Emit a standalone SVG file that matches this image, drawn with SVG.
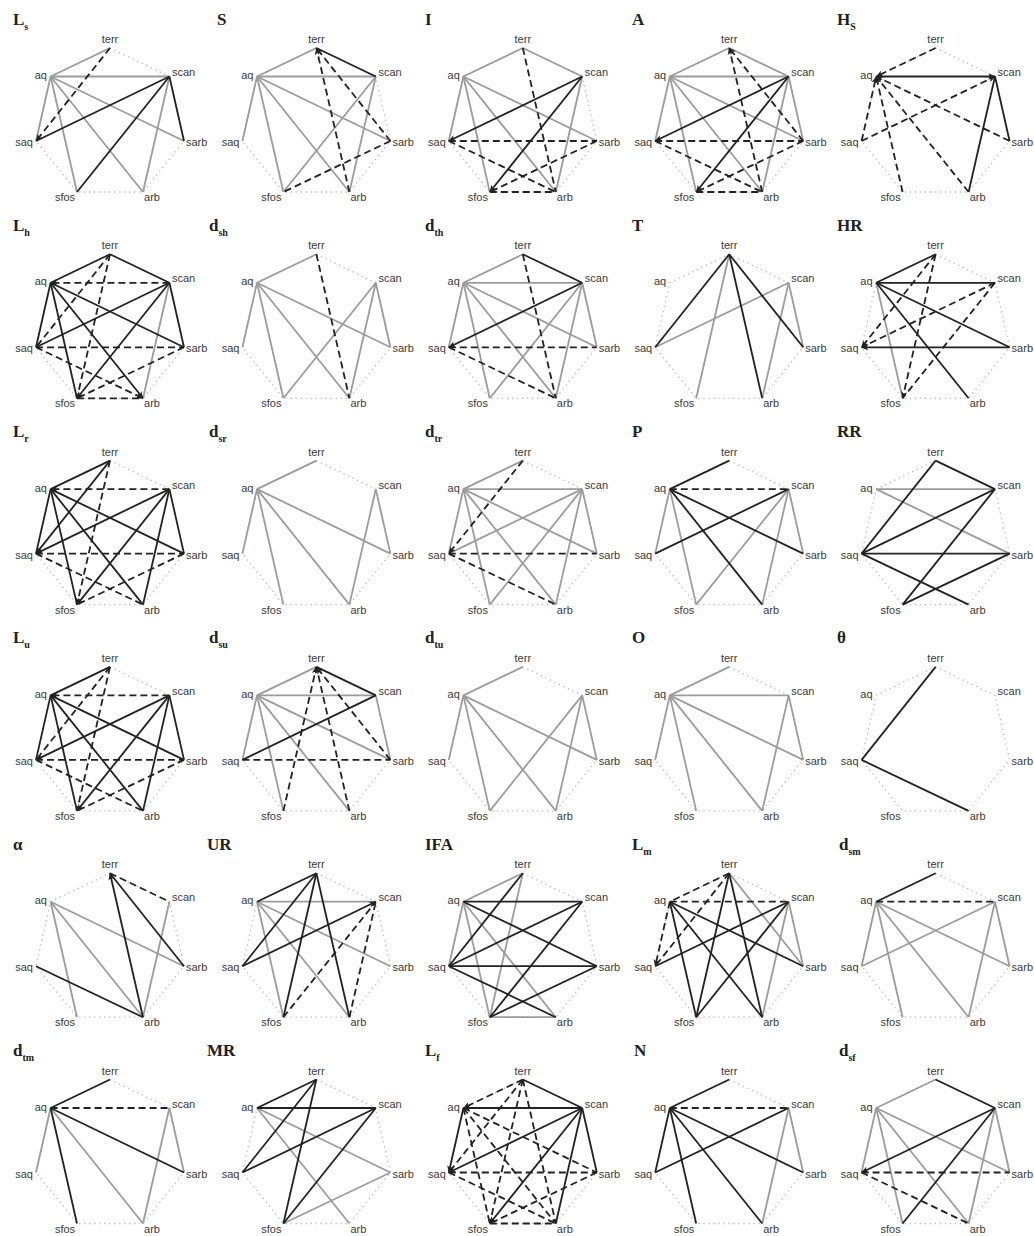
<svg xmlns="http://www.w3.org/2000/svg" width="1034" height="1236" viewBox="0 0 1034 1236">
<style>
.g{stroke:#9c9c9c;stroke-width:1.8;fill:none}
.k{stroke:#222;stroke-width:1.8;fill:none}
.d{stroke:#222;stroke-width:1.8;fill:none;stroke-dasharray:7 4}
.ae{marker-end:url(#ah)}
.hp{fill:none;stroke:#b8b8b8;stroke-width:1.3;stroke-dasharray:1.3 3.7}
.lb{font-family:"Liberation Sans",Arial,sans-serif;font-size:11px;fill:#3a3a3a}
.m{text-anchor:middle}.e{text-anchor:end}
.tt{font-family:"Liberation Serif","Times New Roman",serif;font-size:17px;font-weight:bold;fill:#222}
.sb{font-size:10px}
</style>
<defs>
<marker id="ah" viewBox="0 0 10 10" refX="9.5" refY="5" markerWidth="8" markerHeight="7" markerUnits="userSpaceOnUse" orient="auto"><path d="M0,0.5 L10,5 L0,9.5 L2.5,5 Z" fill="#222"/></marker>
</defs>
<rect width="1034" height="1236" fill="#fff"/>

<g id="p01" transform="translate(0,0)">
<text class="tt" x="13" y="24.5">L<tspan class="sb" dy="5">s</tspan></text>
<path class="hp" d="M110 48L169.4 76.5L184 141L143 192L77 192L36 141L50.6 76.5Z"/>
<g id="p01-edges">
<path class="g" d="M110 48L50.6 76.5"/><path class="g" d="M50.6 76.5L169.4 76.5"/><path class="g" d="M50.6 76.5L36 141"/><path class="g" d="M50.6 76.5L77 192"/><path class="g" d="M50.6 76.5L143 192"/><path class="g" d="M50.6 76.5L184 141"/><path class="g" d="M169.4 76.5L143 192"/>
<path class="k" d="M169.4 76.5L36 141"/><path class="k" d="M169.4 76.5L77 192"/><path class="k" d="M169.4 76.5L184 141"/>
<path class="d ae" d="M110 48L36 141"/>
</g>
<g id="p01-terr"><text class="lb m" x="110" y="43">terr</text></g>
<g id="p01-aq"><text class="lb e" x="47" y="79">aq</text></g>
<g id="p01-scan"><text class="lb" x="172" y="76">scan</text></g>
<g id="p01-saq"><text class="lb e" x="33" y="146">saq</text></g>
<g id="p01-sarb"><text class="lb" x="186" y="146">sarb</text></g>
<g id="p01-sfos"><text class="lb m" x="65" y="201">sfos</text></g>
<g id="p01-arb"><text class="lb m" x="152" y="201">arb</text></g>
</g>

<g id="p02" transform="translate(206.4,0)">
<text class="tt" x="10.6" y="24.5">S</text>
<path class="hp" d="M110 48L169.4 76.5L184 141L143 192L77 192L36 141L50.6 76.5Z"/>
<g id="p02-edges">
<path class="g" d="M110 48L50.6 76.5"/><path class="g" d="M50.6 76.5L169.4 76.5"/><path class="g" d="M50.6 76.5L36 141"/><path class="g" d="M50.6 76.5L77 192"/><path class="g" d="M50.6 76.5L143 192"/><path class="g" d="M50.6 76.5L184 141"/><path class="g" d="M169.4 76.5L77 192"/><path class="g" d="M169.4 76.5L143 192"/>
<path class="k" d="M110 48L169.4 76.5"/>
<path class="d ae" d="M143 192L110 48"/><path class="d ae" d="M184 141L110 48"/><path class="d" d="M184 141L77 192"/>
</g>
<g id="p02-terr"><text class="lb m" x="110" y="43">terr</text></g>
<g id="p02-aq"><text class="lb e" x="47" y="79">aq</text></g>
<g id="p02-scan"><text class="lb" x="172" y="76">scan</text></g>
<g id="p02-saq"><text class="lb e" x="33" y="146">saq</text></g>
<g id="p02-sarb"><text class="lb" x="186" y="146">sarb</text></g>
<g id="p02-sfos"><text class="lb m" x="65" y="201">sfos</text></g>
<g id="p02-arb"><text class="lb m" x="152" y="201">arb</text></g>
</g>

<g id="p03" transform="translate(412.8,0)">
<text class="tt" x="12.2" y="24.5">I</text>
<path class="hp" d="M110 48L169.4 76.5L184 141L143 192L77 192L36 141L50.6 76.5Z"/>
<g id="p03-edges">
<path class="g" d="M110 48L50.6 76.5"/><path class="g" d="M110 48L169.4 76.5"/><path class="g" d="M50.6 76.5L36 141"/><path class="g" d="M50.6 76.5L77 192"/><path class="g" d="M50.6 76.5L143 192"/><path class="g" d="M50.6 76.5L184 141"/><path class="g" d="M169.4 76.5L143 192"/>
<path class="k ae" d="M169.4 76.5L36 141"/><path class="k ae" d="M169.4 76.5L77 192"/>
<path class="d" d="M110 48L143 192"/><path class="d" d="M36 141L184 141"/><path class="d" d="M36 141L143 192"/><path class="d" d="M77 192L143 192"/><path class="d" d="M184 141L77 192"/>
</g>
<g id="p03-terr"><text class="lb m" x="110" y="43">terr</text></g>
<g id="p03-aq"><text class="lb e" x="47" y="79">aq</text></g>
<g id="p03-scan"><text class="lb" x="172" y="76">scan</text></g>
<g id="p03-saq"><text class="lb e" x="33" y="146">saq</text></g>
<g id="p03-sarb"><text class="lb" x="186" y="146">sarb</text></g>
<g id="p03-sfos"><text class="lb m" x="65" y="201">sfos</text></g>
<g id="p03-arb"><text class="lb m" x="152" y="201">arb</text></g>
</g>

<g id="p04" transform="translate(619.2,0)">
<text class="tt" x="12.8" y="24.5">A</text>
<path class="hp" d="M110 48L169.4 76.5L184 141L143 192L77 192L36 141L50.6 76.5Z"/>
<g id="p04-edges">
<path class="g" d="M110 48L50.6 76.5"/><path class="g" d="M110 48L169.4 76.5"/><path class="g" d="M50.6 76.5L169.4 76.5"/><path class="g" d="M50.6 76.5L36 141"/><path class="g" d="M50.6 76.5L77 192"/><path class="g" d="M50.6 76.5L143 192"/><path class="g" d="M50.6 76.5L184 141"/><path class="g" d="M169.4 76.5L184 141"/><path class="g" d="M169.4 76.5L143 192"/>
<path class="k ae" d="M169.4 76.5L36 141"/><path class="k ae" d="M169.4 76.5L77 192"/>
<path class="d ae" d="M143 192L110 48"/><path class="d ae" d="M184 141L110 48"/><path class="d" d="M36 141L184 141"/><path class="d" d="M36 141L143 192"/><path class="d" d="M77 192L143 192"/><path class="d" d="M184 141L77 192"/>
</g>
<g id="p04-terr"><text class="lb m" x="110" y="43">terr</text></g>
<g id="p04-aq"><text class="lb e" x="47" y="79">aq</text></g>
<g id="p04-scan"><text class="lb" x="172" y="76">scan</text></g>
<g id="p04-saq"><text class="lb e" x="33" y="146">saq</text></g>
<g id="p04-sarb"><text class="lb" x="186" y="146">sarb</text></g>
<g id="p04-sfos"><text class="lb m" x="65" y="201">sfos</text></g>
<g id="p04-arb"><text class="lb m" x="152" y="201">arb</text></g>
</g>

<g id="p05" transform="translate(825.6,0)">
<text class="tt" x="11.4" y="24.5">H<tspan class="sb" dy="5">S</tspan></text>
<path class="hp" d="M110 48L169.4 76.5L184 141L143 192L77 192L36 141L50.6 76.5Z"/>
<g id="p05-edges">
<path class="k ae" d="M50.6 76.5L169.4 76.5"/><path class="k" d="M169.4 76.5L184 141"/><path class="k" d="M143 192L169.4 76.5"/>
<path class="d ae" d="M110 48L50.6 76.5"/><path class="d ae" d="M36 141L50.6 76.5"/><path class="d ae" d="M77 192L50.6 76.5"/><path class="d ae" d="M143 192L50.6 76.5"/><path class="d ae" d="M184 141L50.6 76.5"/><path class="d ae" d="M36 141L169.4 76.5"/>
</g>
<g id="p05-terr"><text class="lb m" x="110" y="43">terr</text></g>
<g id="p05-aq"><text class="lb e" x="47" y="79">aq</text></g>
<g id="p05-scan"><text class="lb" x="172" y="76">scan</text></g>
<g id="p05-saq"><text class="lb e" x="33" y="146">saq</text></g>
<g id="p05-sarb"><text class="lb" x="186" y="146">sarb</text></g>
<g id="p05-sfos"><text class="lb m" x="65" y="201">sfos</text></g>
<g id="p05-arb"><text class="lb m" x="152" y="201">arb</text></g>
</g>

<g id="p06" transform="translate(0,206.3)">
<text class="tt" x="13" y="24.5">L<tspan class="sb" dy="5">h</tspan></text>
<path class="hp" d="M110 48L169.4 76.5L184 141L143 192L77 192L36 141L50.6 76.5Z"/>
<g id="p06-edges">
<path class="g" d="M169.4 76.5L143 192"/>
<path class="k" d="M110 48L50.6 76.5"/><path class="k" d="M110 48L169.4 76.5"/><path class="k" d="M50.6 76.5L36 141"/><path class="k" d="M50.6 76.5L77 192"/><path class="k ae" d="M50.6 76.5L143 192"/><path class="k" d="M50.6 76.5L184 141"/><path class="k" d="M169.4 76.5L36 141"/><path class="k ae" d="M169.4 76.5L77 192"/><path class="k" d="M169.4 76.5L184 141"/>
<path class="d ae" d="M169.4 76.5L50.6 76.5"/><path class="d" d="M110 48L36 141"/><path class="d" d="M110 48L77 192"/><path class="d" d="M36 141L184 141"/><path class="d ae" d="M36 141L143 192"/><path class="d" d="M77 192L143 192"/><path class="d" d="M184 141L77 192"/>
</g>
<g id="p06-terr"><text class="lb m" x="110" y="43">terr</text></g>
<g id="p06-aq"><text class="lb e" x="47" y="79">aq</text></g>
<g id="p06-scan"><text class="lb" x="172" y="76">scan</text></g>
<g id="p06-saq"><text class="lb e" x="33" y="146">saq</text></g>
<g id="p06-sarb"><text class="lb" x="186" y="146">sarb</text></g>
<g id="p06-sfos"><text class="lb m" x="65" y="201">sfos</text></g>
<g id="p06-arb"><text class="lb m" x="152" y="201">arb</text></g>
</g>

<g id="p07" transform="translate(206.4,206.3)">
<text class="tt" x="2.6" y="24.5">d<tspan class="sb" dy="5">sh</tspan></text>
<path class="hp" d="M110 48L169.4 76.5L184 141L143 192L77 192L36 141L50.6 76.5Z"/>
<g id="p07-edges">
<path class="g" d="M110 48L50.6 76.5"/><path class="g" d="M50.6 76.5L36 141"/><path class="g" d="M50.6 76.5L77 192"/><path class="g" d="M50.6 76.5L143 192"/><path class="g" d="M50.6 76.5L184 141"/><path class="g" d="M169.4 76.5L77 192"/><path class="g" d="M169.4 76.5L143 192"/><path class="g" d="M169.4 76.5L184 141"/>
<path class="d" d="M110 48L143 192"/>
</g>
<g id="p07-terr"><text class="lb m" x="110" y="43">terr</text></g>
<g id="p07-aq"><text class="lb e" x="47" y="79">aq</text></g>
<g id="p07-scan"><text class="lb" x="172" y="76">scan</text></g>
<g id="p07-saq"><text class="lb e" x="33" y="146">saq</text></g>
<g id="p07-sarb"><text class="lb" x="186" y="146">sarb</text></g>
<g id="p07-sfos"><text class="lb m" x="65" y="201">sfos</text></g>
<g id="p07-arb"><text class="lb m" x="152" y="201">arb</text></g>
</g>

<g id="p08" transform="translate(412.8,206.3)">
<text class="tt" x="12.2" y="24.5">d<tspan class="sb" dy="5">th</tspan></text>
<path class="hp" d="M110 48L169.4 76.5L184 141L143 192L77 192L36 141L50.6 76.5Z"/>
<g id="p08-edges">
<path class="g" d="M110 48L50.6 76.5"/><path class="g" d="M50.6 76.5L169.4 76.5"/><path class="g" d="M50.6 76.5L36 141"/><path class="g" d="M50.6 76.5L77 192"/><path class="g" d="M50.6 76.5L143 192"/><path class="g" d="M50.6 76.5L184 141"/><path class="g" d="M169.4 76.5L77 192"/><path class="g" d="M169.4 76.5L143 192"/><path class="g" d="M169.4 76.5L184 141"/>
<path class="k" d="M110 48L169.4 76.5"/><path class="k ae" d="M169.4 76.5L36 141"/>
<path class="d" d="M110 48L143 192"/><path class="d" d="M36 141L184 141"/><path class="d" d="M36 141L143 192"/>
</g>
<g id="p08-terr"><text class="lb m" x="110" y="43">terr</text></g>
<g id="p08-aq"><text class="lb e" x="47" y="79">aq</text></g>
<g id="p08-scan"><text class="lb" x="172" y="76">scan</text></g>
<g id="p08-saq"><text class="lb e" x="33" y="146">saq</text></g>
<g id="p08-sarb"><text class="lb" x="186" y="146">sarb</text></g>
<g id="p08-sfos"><text class="lb m" x="65" y="201">sfos</text></g>
<g id="p08-arb"><text class="lb m" x="152" y="201">arb</text></g>
</g>

<g id="p09" transform="translate(619.2,206.3)">
<text class="tt" x="12.8" y="24.5">T</text>
<path class="hp" d="M110 48L169.4 76.5L184 141L143 192L77 192L36 141L50.6 76.5Z"/>
<g id="p09-edges">
<path class="g" d="M110 48L77 192"/><path class="g" d="M169.4 76.5L36 141"/><path class="g" d="M169.4 76.5L143 192"/><path class="g" d="M169.4 76.5L184 141"/>
<path class="k" d="M110 48L36 141"/><path class="k" d="M110 48L143 192"/><path class="k" d="M110 48L184 141"/>
</g>
<g id="p09-terr"><text class="lb m" x="110" y="43">terr</text></g>
<g id="p09-aq"><text class="lb e" x="47" y="79">aq</text></g>
<g id="p09-scan"><text class="lb" x="172" y="76">scan</text></g>
<g id="p09-saq"><text class="lb e" x="33" y="146">saq</text></g>
<g id="p09-sarb"><text class="lb" x="186" y="146">sarb</text></g>
<g id="p09-sfos"><text class="lb m" x="65" y="201">sfos</text></g>
<g id="p09-arb"><text class="lb m" x="152" y="201">arb</text></g>
</g>

<g id="p10" transform="translate(825.6,206.3)">
<text class="tt" x="11.4" y="24.5">HR</text>
<path class="hp" d="M110 48L169.4 76.5L184 141L143 192L77 192L36 141L50.6 76.5Z"/>
<g id="p10-edges">
<path class="g" d="M50.6 76.5L77 192"/>
<path class="k" d="M110 48L50.6 76.5"/><path class="k" d="M50.6 76.5L169.4 76.5"/><path class="k" d="M50.6 76.5L184 141"/><path class="k" d="M50.6 76.5L143 192"/><path class="k ae" d="M184 141L36 141"/>
<path class="d ae" d="M110 48L36 141"/><path class="d ae" d="M110 48L77 192"/><path class="d" d="M169.4 76.5L36 141"/><path class="d" d="M169.4 76.5L77 192"/>
</g>
<g id="p10-terr"><text class="lb m" x="110" y="43">terr</text></g>
<g id="p10-aq"><text class="lb e" x="47" y="79">aq</text></g>
<g id="p10-scan"><text class="lb" x="172" y="76">scan</text></g>
<g id="p10-saq"><text class="lb e" x="33" y="146">saq</text></g>
<g id="p10-sarb"><text class="lb" x="186" y="146">sarb</text></g>
<g id="p10-sfos"><text class="lb m" x="65" y="201">sfos</text></g>
<g id="p10-arb"><text class="lb m" x="152" y="201">arb</text></g>
</g>

<g id="p11" transform="translate(0,412.6)">
<text class="tt" x="13" y="24.5">L<tspan class="sb" dy="5">r</tspan></text>
<path class="hp" d="M110 48L169.4 76.5L184 141L143 192L77 192L36 141L50.6 76.5Z"/>
<g id="p11-edges">
<path class="k" d="M110 48L50.6 76.5"/><path class="k ae" d="M110 48L36 141"/><path class="k" d="M50.6 76.5L36 141"/><path class="k" d="M50.6 76.5L77 192"/><path class="k" d="M50.6 76.5L143 192"/><path class="k" d="M50.6 76.5L184 141"/><path class="k ae" d="M169.4 76.5L36 141"/><path class="k ae" d="M169.4 76.5L77 192"/><path class="k" d="M169.4 76.5L143 192"/><path class="k" d="M169.4 76.5L184 141"/>
<path class="d ae" d="M169.4 76.5L50.6 76.5"/><path class="d ae" d="M110 48L77 192"/><path class="d" d="M36 141L184 141"/><path class="d" d="M36 141L143 192"/><path class="d" d="M184 141L77 192"/>
</g>
<g id="p11-terr"><text class="lb m" x="110" y="43">terr</text></g>
<g id="p11-aq"><text class="lb e" x="47" y="79">aq</text></g>
<g id="p11-scan"><text class="lb" x="172" y="76">scan</text></g>
<g id="p11-saq"><text class="lb e" x="33" y="146">saq</text></g>
<g id="p11-sarb"><text class="lb" x="186" y="146">sarb</text></g>
<g id="p11-sfos"><text class="lb m" x="65" y="201">sfos</text></g>
<g id="p11-arb"><text class="lb m" x="152" y="201">arb</text></g>
</g>

<g id="p12" transform="translate(206.4,412.6)">
<text class="tt" x="2.6" y="24.5">d<tspan class="sb" dy="5">sr</tspan></text>
<path class="hp" d="M110 48L169.4 76.5L184 141L143 192L77 192L36 141L50.6 76.5Z"/>
<g id="p12-edges">
<path class="g" d="M110 48L50.6 76.5"/><path class="g" d="M50.6 76.5L36 141"/><path class="g" d="M50.6 76.5L77 192"/><path class="g" d="M50.6 76.5L143 192"/><path class="g" d="M50.6 76.5L184 141"/><path class="g" d="M169.4 76.5L143 192"/><path class="g" d="M169.4 76.5L184 141"/>
</g>
<g id="p12-terr"><text class="lb m" x="110" y="43">terr</text></g>
<g id="p12-aq"><text class="lb e" x="47" y="79">aq</text></g>
<g id="p12-scan"><text class="lb" x="172" y="76">scan</text></g>
<g id="p12-saq"><text class="lb e" x="33" y="146">saq</text></g>
<g id="p12-sarb"><text class="lb" x="186" y="146">sarb</text></g>
<g id="p12-sfos"><text class="lb m" x="65" y="201">sfos</text></g>
<g id="p12-arb"><text class="lb m" x="152" y="201">arb</text></g>
</g>

<g id="p13" transform="translate(412.8,412.6)">
<text class="tt" x="12.2" y="24.5">d<tspan class="sb" dy="5">tr</tspan></text>
<path class="hp" d="M110 48L169.4 76.5L184 141L143 192L77 192L36 141L50.6 76.5Z"/>
<g id="p13-edges">
<path class="g" d="M110 48L50.6 76.5"/><path class="g" d="M50.6 76.5L169.4 76.5"/><path class="g" d="M50.6 76.5L36 141"/><path class="g" d="M50.6 76.5L77 192"/><path class="g" d="M50.6 76.5L143 192"/><path class="g" d="M50.6 76.5L184 141"/><path class="g" d="M169.4 76.5L36 141"/><path class="g" d="M169.4 76.5L77 192"/><path class="g" d="M169.4 76.5L143 192"/><path class="g" d="M169.4 76.5L184 141"/>
<path class="d ae" d="M110 48L36 141"/><path class="d" d="M36 141L184 141"/><path class="d" d="M36 141L143 192"/>
</g>
<g id="p13-terr"><text class="lb m" x="110" y="43">terr</text></g>
<g id="p13-aq"><text class="lb e" x="47" y="79">aq</text></g>
<g id="p13-scan"><text class="lb" x="172" y="76">scan</text></g>
<g id="p13-saq"><text class="lb e" x="33" y="146">saq</text></g>
<g id="p13-sarb"><text class="lb" x="186" y="146">sarb</text></g>
<g id="p13-sfos"><text class="lb m" x="65" y="201">sfos</text></g>
<g id="p13-arb"><text class="lb m" x="152" y="201">arb</text></g>
</g>

<g id="p14" transform="translate(619.2,412.6)">
<text class="tt" x="12.8" y="24.5">P</text>
<path class="hp" d="M110 48L169.4 76.5L184 141L143 192L77 192L36 141L50.6 76.5Z"/>
<g id="p14-edges">
<path class="g" d="M50.6 76.5L36 141"/><path class="g" d="M50.6 76.5L77 192"/><path class="g" d="M169.4 76.5L77 192"/><path class="g" d="M169.4 76.5L143 192"/><path class="g" d="M169.4 76.5L184 141"/>
<path class="k" d="M110 48L50.6 76.5"/><path class="k" d="M50.6 76.5L184 141"/><path class="k" d="M50.6 76.5L143 192"/><path class="k" d="M169.4 76.5L36 141"/>
<path class="d" d="M50.6 76.5L169.4 76.5"/>
</g>
<g id="p14-terr"><text class="lb m" x="110" y="43">terr</text></g>
<g id="p14-aq"><text class="lb e" x="47" y="79">aq</text></g>
<g id="p14-scan"><text class="lb" x="172" y="76">scan</text></g>
<g id="p14-saq"><text class="lb e" x="33" y="146">saq</text></g>
<g id="p14-sarb"><text class="lb" x="186" y="146">sarb</text></g>
<g id="p14-sfos"><text class="lb m" x="65" y="201">sfos</text></g>
<g id="p14-arb"><text class="lb m" x="152" y="201">arb</text></g>
</g>

<g id="p15" transform="translate(825.6,412.6)">
<text class="tt" x="11.4" y="24.5">RR</text>
<path class="hp" d="M110 48L169.4 76.5L184 141L143 192L77 192L36 141L50.6 76.5Z"/>
<g id="p15-edges">
<path class="g" d="M50.6 76.5L169.4 76.5"/><path class="g" d="M50.6 76.5L184 141"/>
<path class="k" d="M110 48L36 141"/><path class="k" d="M110 48L169.4 76.5"/><path class="k" d="M169.4 76.5L36 141"/><path class="k" d="M169.4 76.5L77 192"/><path class="k" d="M36 141L184 141"/><path class="k" d="M36 141L143 192"/><path class="k" d="M184 141L77 192"/>
</g>
<g id="p15-terr"><text class="lb m" x="110" y="43">terr</text></g>
<g id="p15-aq"><text class="lb e" x="47" y="79">aq</text></g>
<g id="p15-scan"><text class="lb" x="172" y="76">scan</text></g>
<g id="p15-saq"><text class="lb e" x="33" y="146">saq</text></g>
<g id="p15-sarb"><text class="lb" x="186" y="146">sarb</text></g>
<g id="p15-sfos"><text class="lb m" x="65" y="201">sfos</text></g>
<g id="p15-arb"><text class="lb m" x="152" y="201">arb</text></g>
</g>

<g id="p16" transform="translate(0,618.9)">
<text class="tt" x="13" y="24.5">L<tspan class="sb" dy="5">u</tspan></text>
<path class="hp" d="M110 48L169.4 76.5L184 141L143 192L77 192L36 141L50.6 76.5Z"/>
<g id="p16-edges">
<path class="k" d="M110 48L50.6 76.5"/><path class="k" d="M50.6 76.5L36 141"/><path class="k" d="M50.6 76.5L77 192"/><path class="k" d="M50.6 76.5L143 192"/><path class="k" d="M50.6 76.5L184 141"/><path class="k ae" d="M169.4 76.5L36 141"/><path class="k ae" d="M169.4 76.5L77 192"/><path class="k" d="M169.4 76.5L143 192"/><path class="k" d="M169.4 76.5L184 141"/>
<path class="d ae" d="M169.4 76.5L50.6 76.5"/><path class="d" d="M110 48L36 141"/><path class="d" d="M110 48L77 192"/><path class="d" d="M36 141L184 141"/><path class="d" d="M36 141L143 192"/><path class="d" d="M184 141L77 192"/>
</g>
<g id="p16-terr"><text class="lb m" x="110" y="43">terr</text></g>
<g id="p16-aq"><text class="lb e" x="47" y="79">aq</text></g>
<g id="p16-scan"><text class="lb" x="172" y="76">scan</text></g>
<g id="p16-saq"><text class="lb e" x="33" y="146">saq</text></g>
<g id="p16-sarb"><text class="lb" x="186" y="146">sarb</text></g>
<g id="p16-sfos"><text class="lb m" x="65" y="201">sfos</text></g>
<g id="p16-arb"><text class="lb m" x="152" y="201">arb</text></g>
</g>

<g id="p17" transform="translate(206.4,618.9)">
<text class="tt" x="2.6" y="24.5">d<tspan class="sb" dy="5">su</tspan></text>
<path class="hp" d="M110 48L169.4 76.5L184 141L143 192L77 192L36 141L50.6 76.5Z"/>
<g id="p17-edges">
<path class="g" d="M110 48L50.6 76.5"/><path class="g" d="M50.6 76.5L169.4 76.5"/><path class="g" d="M50.6 76.5L36 141"/><path class="g" d="M50.6 76.5L77 192"/><path class="g" d="M50.6 76.5L143 192"/><path class="g" d="M50.6 76.5L184 141"/><path class="g" d="M169.4 76.5L184 141"/>
<path class="k" d="M110 48L169.4 76.5"/><path class="k" d="M169.4 76.5L36 141"/>
<path class="d ae" d="M77 192L110 48"/><path class="d ae" d="M143 192L110 48"/><path class="d ae" d="M184 141L110 48"/><path class="d" d="M36 141L184 141"/>
</g>
<g id="p17-terr"><text class="lb m" x="110" y="43">terr</text></g>
<g id="p17-aq"><text class="lb e" x="47" y="79">aq</text></g>
<g id="p17-scan"><text class="lb" x="172" y="76">scan</text></g>
<g id="p17-saq"><text class="lb e" x="33" y="146">saq</text></g>
<g id="p17-sarb"><text class="lb" x="186" y="146">sarb</text></g>
<g id="p17-sfos"><text class="lb m" x="65" y="201">sfos</text></g>
<g id="p17-arb"><text class="lb m" x="152" y="201">arb</text></g>
</g>

<g id="p18" transform="translate(412.8,618.9)">
<text class="tt" x="12.2" y="24.5">d<tspan class="sb" dy="5">tu</tspan></text>
<path class="hp" d="M110 48L169.4 76.5L184 141L143 192L77 192L36 141L50.6 76.5Z"/>
<g id="p18-edges">
<path class="g" d="M110 48L50.6 76.5"/><path class="g" d="M50.6 76.5L36 141"/><path class="g" d="M50.6 76.5L77 192"/><path class="g" d="M50.6 76.5L143 192"/><path class="g" d="M50.6 76.5L184 141"/><path class="g" d="M169.4 76.5L77 192"/><path class="g" d="M169.4 76.5L143 192"/><path class="g" d="M169.4 76.5L184 141"/>
</g>
<g id="p18-terr"><text class="lb m" x="110" y="43">terr</text></g>
<g id="p18-aq"><text class="lb e" x="47" y="79">aq</text></g>
<g id="p18-scan"><text class="lb" x="172" y="76">scan</text></g>
<g id="p18-saq"><text class="lb e" x="33" y="146">saq</text></g>
<g id="p18-sarb"><text class="lb" x="186" y="146">sarb</text></g>
<g id="p18-sfos"><text class="lb m" x="65" y="201">sfos</text></g>
<g id="p18-arb"><text class="lb m" x="152" y="201">arb</text></g>
</g>

<g id="p19" transform="translate(619.2,618.9)">
<text class="tt" x="12.8" y="24.5">O</text>
<path class="hp" d="M110 48L169.4 76.5L184 141L143 192L77 192L36 141L50.6 76.5Z"/>
<g id="p19-edges">
<path class="g" d="M110 48L50.6 76.5"/><path class="g" d="M50.6 76.5L169.4 76.5"/><path class="g" d="M50.6 76.5L36 141"/><path class="g" d="M50.6 76.5L77 192"/><path class="g" d="M50.6 76.5L143 192"/><path class="g" d="M50.6 76.5L184 141"/><path class="g" d="M169.4 76.5L143 192"/><path class="g" d="M169.4 76.5L184 141"/>
</g>
<g id="p19-terr"><text class="lb m" x="110" y="43">terr</text></g>
<g id="p19-aq"><text class="lb e" x="47" y="79">aq</text></g>
<g id="p19-scan"><text class="lb" x="172" y="76">scan</text></g>
<g id="p19-saq"><text class="lb e" x="33" y="146">saq</text></g>
<g id="p19-sarb"><text class="lb" x="186" y="146">sarb</text></g>
<g id="p19-sfos"><text class="lb m" x="65" y="201">sfos</text></g>
<g id="p19-arb"><text class="lb m" x="152" y="201">arb</text></g>
</g>

<g id="p20" transform="translate(825.6,618.9)">
<text class="tt" x="11.4" y="24.5">θ</text>
<path class="hp" d="M110 48L169.4 76.5L184 141L143 192L77 192L36 141L50.6 76.5Z"/>
<g id="p20-edges">
<path class="k" d="M110 48L36 141"/><path class="k" d="M36 141L143 192"/>
</g>
<g id="p20-terr"><text class="lb m" x="110" y="43">terr</text></g>
<g id="p20-aq"><text class="lb e" x="47" y="79">aq</text></g>
<g id="p20-scan"><text class="lb" x="172" y="76">scan</text></g>
<g id="p20-saq"><text class="lb e" x="33" y="146">saq</text></g>
<g id="p20-sarb"><text class="lb" x="186" y="146">sarb</text></g>
<g id="p20-sfos"><text class="lb m" x="65" y="201">sfos</text></g>
<g id="p20-arb"><text class="lb m" x="152" y="201">arb</text></g>
</g>

<g id="p21" transform="translate(0,825.2)">
<text class="tt" x="13" y="24.5">α</text>
<path class="hp" d="M110 48L169.4 76.5L184 141L143 192L77 192L36 141L50.6 76.5Z"/>
<g id="p21-edges">
<path class="g" d="M50.6 76.5L77 192"/><path class="g" d="M50.6 76.5L143 192"/><path class="g" d="M50.6 76.5L184 141"/><path class="g" d="M169.4 76.5L143 192"/>
<path class="k ae" d="M143 192L110 48"/><path class="k" d="M110 48L184 141"/><path class="k" d="M36 141L143 192"/>
<path class="d" d="M110 48L169.4 76.5"/>
</g>
<g id="p21-terr"><text class="lb m" x="110" y="43">terr</text></g>
<g id="p21-aq"><text class="lb e" x="47" y="79">aq</text></g>
<g id="p21-scan"><text class="lb" x="172" y="76">scan</text></g>
<g id="p21-saq"><text class="lb e" x="33" y="146">saq</text></g>
<g id="p21-sarb"><text class="lb" x="186" y="146">sarb</text></g>
<g id="p21-sfos"><text class="lb m" x="65" y="201">sfos</text></g>
<g id="p21-arb"><text class="lb m" x="152" y="201">arb</text></g>
</g>

<g id="p22" transform="translate(206.4,825.2)">
<text class="tt" x="0.6" y="24.5">UR</text>
<path class="hp" d="M110 48L169.4 76.5L184 141L143 192L77 192L36 141L50.6 76.5Z"/>
<g id="p22-edges">
<path class="g" d="M50.6 76.5L169.4 76.5"/><path class="g" d="M50.6 76.5L77 192"/><path class="g" d="M50.6 76.5L143 192"/><path class="g" d="M50.6 76.5L184 141"/>
<path class="k" d="M110 48L50.6 76.5"/><path class="k" d="M110 48L36 141"/><path class="k" d="M110 48L77 192"/><path class="k" d="M110 48L143 192"/><path class="k ae" d="M36 141L169.4 76.5"/>
<path class="d" d="M77 192L169.4 76.5"/><path class="d" d="M143 192L169.4 76.5"/>
</g>
<g id="p22-terr"><text class="lb m" x="110" y="43">terr</text></g>
<g id="p22-aq"><text class="lb e" x="47" y="79">aq</text></g>
<g id="p22-scan"><text class="lb" x="172" y="76">scan</text></g>
<g id="p22-saq"><text class="lb e" x="33" y="146">saq</text></g>
<g id="p22-sarb"><text class="lb" x="186" y="146">sarb</text></g>
<g id="p22-sfos"><text class="lb m" x="65" y="201">sfos</text></g>
<g id="p22-arb"><text class="lb m" x="152" y="201">arb</text></g>
</g>

<g id="p23" transform="translate(412.8,825.2)">
<text class="tt" x="12.2" y="24.5">IFA</text>
<path class="hp" d="M110 48L169.4 76.5L184 141L143 192L77 192L36 141L50.6 76.5Z"/>
<g id="p23-edges">
<path class="g" d="M110 48L50.6 76.5"/><path class="g" d="M110 48L77 192"/><path class="g" d="M50.6 76.5L36 141"/><path class="g" d="M50.6 76.5L77 192"/><path class="g" d="M50.6 76.5L143 192"/><path class="g" d="M77 192L143 192"/>
<path class="k" d="M110 48L36 141"/><path class="k" d="M50.6 76.5L169.4 76.5"/><path class="k" d="M50.6 76.5L184 141"/><path class="k" d="M36 141L169.4 76.5"/><path class="k" d="M36 141L184 141"/><path class="k" d="M36 141L143 192"/><path class="k" d="M77 192L169.4 76.5"/><path class="k" d="M77 192L184 141"/>
</g>
<g id="p23-terr"><text class="lb m" x="110" y="43">terr</text></g>
<g id="p23-aq"><text class="lb e" x="47" y="79">aq</text></g>
<g id="p23-scan"><text class="lb" x="172" y="76">scan</text></g>
<g id="p23-saq"><text class="lb e" x="33" y="146">saq</text></g>
<g id="p23-sarb"><text class="lb" x="186" y="146">sarb</text></g>
<g id="p23-sfos"><text class="lb m" x="65" y="201">sfos</text></g>
<g id="p23-arb"><text class="lb m" x="152" y="201">arb</text></g>
</g>

<g id="p24" transform="translate(619.2,825.2)">
<text class="tt" x="12.8" y="24.5">L<tspan class="sb" dy="5">m</tspan></text>
<path class="hp" d="M110 48L169.4 76.5L184 141L143 192L77 192L36 141L50.6 76.5Z"/>
<g id="p24-edges">
<path class="g" d="M110 48L184 141"/><path class="g" d="M169.4 76.5L143 192"/><path class="g" d="M169.4 76.5L184 141"/>
<path class="k" d="M110 48L77 192"/><path class="k" d="M110 48L143 192"/><path class="k" d="M50.6 76.5L77 192"/><path class="k" d="M50.6 76.5L143 192"/><path class="k" d="M50.6 76.5L184 141"/><path class="k" d="M169.4 76.5L36 141"/><path class="k" d="M169.4 76.5L77 192"/>
<path class="d" d="M110 48L50.6 76.5"/><path class="d" d="M110 48L36 141"/><path class="d" d="M50.6 76.5L169.4 76.5"/><path class="d ae" d="M50.6 76.5L36 141"/>
</g>
<g id="p24-terr"><text class="lb m" x="110" y="43">terr</text></g>
<g id="p24-aq"><text class="lb e" x="47" y="79">aq</text></g>
<g id="p24-scan"><text class="lb" x="172" y="76">scan</text></g>
<g id="p24-saq"><text class="lb e" x="33" y="146">saq</text></g>
<g id="p24-sarb"><text class="lb" x="186" y="146">sarb</text></g>
<g id="p24-sfos"><text class="lb m" x="65" y="201">sfos</text></g>
<g id="p24-arb"><text class="lb m" x="152" y="201">arb</text></g>
</g>

<g id="p25" transform="translate(825.6,825.2)">
<text class="tt" x="13.4" y="24.5">d<tspan class="sb" dy="5">sm</tspan></text>
<path class="hp" d="M110 48L169.4 76.5L184 141L143 192L77 192L36 141L50.6 76.5Z"/>
<g id="p25-edges">
<path class="g" d="M50.6 76.5L36 141"/><path class="g" d="M50.6 76.5L77 192"/><path class="g" d="M50.6 76.5L143 192"/><path class="g" d="M50.6 76.5L184 141"/><path class="g" d="M169.4 76.5L36 141"/><path class="g" d="M169.4 76.5L143 192"/><path class="g" d="M169.4 76.5L184 141"/>
<path class="k" d="M110 48L50.6 76.5"/>
<path class="d" d="M50.6 76.5L169.4 76.5"/>
</g>
<g id="p25-terr"><text class="lb m" x="110" y="43">terr</text></g>
<g id="p25-aq"><text class="lb e" x="47" y="79">aq</text></g>
<g id="p25-scan"><text class="lb" x="172" y="76">scan</text></g>
<g id="p25-saq"><text class="lb e" x="33" y="146">saq</text></g>
<g id="p25-sarb"><text class="lb" x="186" y="146">sarb</text></g>
<g id="p25-sfos"><text class="lb m" x="65" y="201">sfos</text></g>
<g id="p25-arb"><text class="lb m" x="152" y="201">arb</text></g>
</g>

<g id="p26" transform="translate(0,1031.5)">
<text class="tt" x="13" y="24.5">d<tspan class="sb" dy="5">tm</tspan></text>
<path class="hp" d="M110 48L169.4 76.5L184 141L143 192L77 192L36 141L50.6 76.5Z"/>
<g id="p26-edges">
<path class="g" d="M50.6 76.5L36 141"/><path class="g" d="M50.6 76.5L143 192"/><path class="g" d="M169.4 76.5L143 192"/><path class="g" d="M169.4 76.5L184 141"/>
<path class="k" d="M110 48L50.6 76.5"/><path class="k" d="M50.6 76.5L77 192"/><path class="k" d="M50.6 76.5L184 141"/>
<path class="d" d="M50.6 76.5L169.4 76.5"/>
</g>
<g id="p26-terr"><text class="lb m" x="110" y="43">terr</text></g>
<g id="p26-aq"><text class="lb e" x="47" y="79">aq</text></g>
<g id="p26-scan"><text class="lb" x="172" y="76">scan</text></g>
<g id="p26-saq"><text class="lb e" x="33" y="146">saq</text></g>
<g id="p26-sarb"><text class="lb" x="186" y="146">sarb</text></g>
<g id="p26-sfos"><text class="lb m" x="65" y="201">sfos</text></g>
<g id="p26-arb"><text class="lb m" x="152" y="201">arb</text></g>
</g>

<g id="p27" transform="translate(206.4,1031.5)">
<text class="tt" x="0.6" y="24.5">MR</text>
<path class="hp" d="M110 48L169.4 76.5L184 141L143 192L77 192L36 141L50.6 76.5Z"/>
<g id="p27-edges">
<path class="g" d="M50.6 76.5L184 141"/><path class="g" d="M50.6 76.5L143 192"/><path class="g" d="M77 192L184 141"/>
<path class="k" d="M110 48L50.6 76.5"/><path class="k" d="M110 48L36 141"/><path class="k" d="M110 48L77 192"/><path class="k" d="M50.6 76.5L169.4 76.5"/><path class="k" d="M169.4 76.5L36 141"/><path class="k" d="M169.4 76.5L77 192"/>
</g>
<g id="p27-terr"><text class="lb m" x="110" y="43">terr</text></g>
<g id="p27-aq"><text class="lb e" x="47" y="79">aq</text></g>
<g id="p27-scan"><text class="lb" x="172" y="76">scan</text></g>
<g id="p27-saq"><text class="lb e" x="33" y="146">saq</text></g>
<g id="p27-sarb"><text class="lb" x="186" y="146">sarb</text></g>
<g id="p27-sfos"><text class="lb m" x="65" y="201">sfos</text></g>
<g id="p27-arb"><text class="lb m" x="152" y="201">arb</text></g>
</g>

<g id="p28" transform="translate(412.8,1031.5)">
<text class="tt" x="12.2" y="24.5">L<tspan class="sb" dy="5">f</tspan></text>
<path class="hp" d="M110 48L169.4 76.5L184 141L143 192L77 192L36 141L50.6 76.5Z"/>
<g id="p28-edges">
<path class="k" d="M110 48L169.4 76.5"/><path class="k ae" d="M169.4 76.5L50.6 76.5"/><path class="k ae" d="M169.4 76.5L36 141"/><path class="k ae" d="M169.4 76.5L77 192"/><path class="k" d="M169.4 76.5L143 192"/><path class="k" d="M169.4 76.5L184 141"/><path class="k ae" d="M50.6 76.5L36 141"/>
<path class="d ae" d="M110 48L50.6 76.5"/><path class="d" d="M110 48L36 141"/><path class="d" d="M110 48L77 192"/><path class="d" d="M110 48L143 192"/><path class="d" d="M50.6 76.5L184 141"/><path class="d" d="M50.6 76.5L143 192"/><path class="d" d="M50.6 76.5L77 192"/><path class="d" d="M36 141L184 141"/><path class="d" d="M36 141L143 192"/><path class="d" d="M184 141L77 192"/><path class="d" d="M77 192L143 192"/>
</g>
<g id="p28-terr"><text class="lb m" x="110" y="43">terr</text></g>
<g id="p28-aq"><text class="lb e" x="47" y="79">aq</text></g>
<g id="p28-scan"><text class="lb" x="172" y="76">scan</text></g>
<g id="p28-saq"><text class="lb e" x="33" y="146">saq</text></g>
<g id="p28-sarb"><text class="lb" x="186" y="146">sarb</text></g>
<g id="p28-sfos"><text class="lb m" x="65" y="201">sfos</text></g>
<g id="p28-arb"><text class="lb m" x="152" y="201">arb</text></g>
</g>

<g id="p29" transform="translate(619.2,1031.5)">
<text class="tt" x="14.8" y="24.5">N</text>
<path class="hp" d="M110 48L169.4 76.5L184 141L143 192L77 192L36 141L50.6 76.5Z"/>
<g id="p29-edges">
<path class="g" d="M169.4 76.5L143 192"/><path class="g" d="M169.4 76.5L184 141"/>
<path class="k" d="M110 48L50.6 76.5"/><path class="k" d="M50.6 76.5L36 141"/><path class="k" d="M50.6 76.5L77 192"/><path class="k" d="M50.6 76.5L143 192"/><path class="k" d="M50.6 76.5L184 141"/><path class="k" d="M169.4 76.5L36 141"/>
<path class="d" d="M50.6 76.5L169.4 76.5"/>
</g>
<g id="p29-terr"><text class="lb m" x="110" y="43">terr</text></g>
<g id="p29-aq"><text class="lb e" x="47" y="79">aq</text></g>
<g id="p29-scan"><text class="lb" x="172" y="76">scan</text></g>
<g id="p29-saq"><text class="lb e" x="33" y="146">saq</text></g>
<g id="p29-sarb"><text class="lb" x="186" y="146">sarb</text></g>
<g id="p29-sfos"><text class="lb m" x="65" y="201">sfos</text></g>
<g id="p29-arb"><text class="lb m" x="152" y="201">arb</text></g>
</g>

<g id="p30" transform="translate(825.6,1031.5)">
<text class="tt" x="13.4" y="24.5">d<tspan class="sb" dy="5">sf</tspan></text>
<path class="hp" d="M110 48L169.4 76.5L184 141L143 192L77 192L36 141L50.6 76.5Z"/>
<g id="p30-edges">
<path class="g" d="M110 48L50.6 76.5"/><path class="g" d="M50.6 76.5L36 141"/><path class="g" d="M50.6 76.5L77 192"/><path class="g" d="M50.6 76.5L143 192"/><path class="g" d="M50.6 76.5L184 141"/><path class="g" d="M169.4 76.5L184 141"/><path class="g" d="M169.4 76.5L143 192"/>
<path class="k" d="M110 48L169.4 76.5"/><path class="k ae" d="M169.4 76.5L36 141"/><path class="k" d="M169.4 76.5L77 192"/>
<path class="d" d="M36 141L184 141"/><path class="d" d="M36 141L143 192"/>
</g>
<g id="p30-terr"><text class="lb m" x="110" y="43">terr</text></g>
<g id="p30-aq"><text class="lb e" x="47" y="79">aq</text></g>
<g id="p30-scan"><text class="lb" x="172" y="76">scan</text></g>
<g id="p30-saq"><text class="lb e" x="33" y="146">saq</text></g>
<g id="p30-sarb"><text class="lb" x="186" y="146">sarb</text></g>
<g id="p30-sfos"><text class="lb m" x="65" y="201">sfos</text></g>
<g id="p30-arb"><text class="lb m" x="152" y="201">arb</text></g>
</g>
</svg>
